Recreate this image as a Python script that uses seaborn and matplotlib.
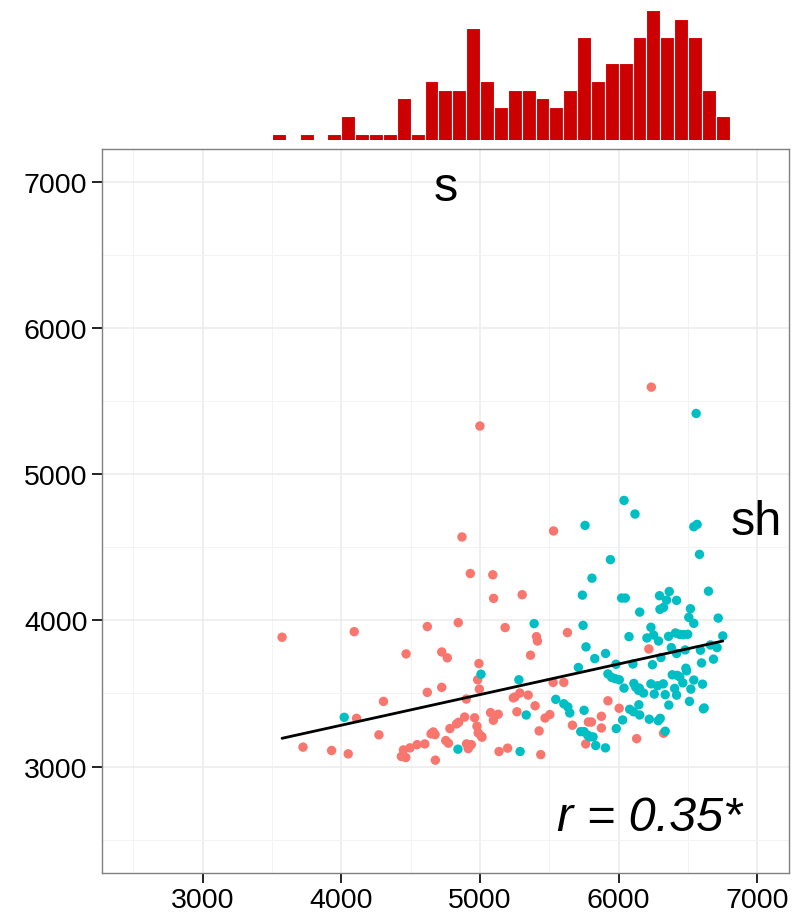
import numpy as np
import pandas as pd
import matplotlib
matplotlib.use("Agg")
import matplotlib.pyplot as plt
import seaborn as sns
from matplotlib.ticker import MultipleLocator, FixedLocator

# Group "s" observations
s_x = [3573, 4093, 4620, 4843, 5098, 5092, 4930, 5181, 4467, 4724,
       4764, 4992, 4983, 4995, 4724, 4620, 4304, 4901, 4110, 5076,
       5131, 5096, 4889, 4961, 4846, 4831, 4978, 4783, 4987, 5014,
       4663, 4676, 4647, 4271, 4753, 4772, 4602, 4546, 4495, 4448,
       4433, 4465, 4678, 4903, 4920, 4937, 4915, 5137, 5199, 3724,
       3930, 4050, 5530, 5304, 5407, 5414, 5630, 5364, 6217, 5527,
       5604, 5251, 5287, 5347, 5397, 5266, 5469, 5503, 5426, 5922,
       6003, 5875, 5781, 5803, 5666, 5875, 5762, 6129, 6323, 5438,
       6235, 4999, 4870, 5010, 5240]
s_y = [3885, 3923, 3958, 3985, 4151, 4312, 4321, 3951, 3771, 3784,
       3744, 3705, 3594, 3530, 3542, 3508, 3446, 3462, 3330, 3369,
       3358, 3317, 3339, 3334, 3303, 3292, 3276, 3260, 3230, 3201,
       3237, 3219, 3224, 3217, 3178, 3160, 3155, 3150, 3128, 3114,
       3069, 3062, 3044, 3155, 3140, 3150, 3123, 3103, 3126, 3133,
       3110, 3087, 4612, 4176, 3889, 3859, 3917, 3762, 3805, 3576,
       3576, 3476, 3503, 3489, 3416, 3375, 3332, 3356, 3244, 3450,
       3399, 3344, 3305, 3305, 3283, 3264, 3155, 3191, 3228, 3082,
       5596, 5330, 4571, 3208, 3470]

# Group "sh" observations
sh_x = [5007, 4021, 4841, 6038, 6117, 5757, 6541, 6565, 6582, 5940,
        5807, 5738, 6021, 6047, 6647, 6294, 6364, 6345, 6417, 6297,
        6323, 6517, 6151, 5390, 5743, 6505, 6717, 6541, 6232, 6074,
        6203, 6251, 6287, 6359, 6409, 6438, 6465, 6497, 6750, 6661,
        6709, 5764, 5905, 5827, 6379, 6417, 6479, 6589, 6304, 6683,
        6597, 6243, 6102, 5980, 5709, 5922, 5949, 5975, 6004, 6484,
        6489, 6386, 6421, 6440, 6462, 6541, 6604, 6109, 6122, 6148,
        6143, 6179, 6038, 6232, 6256, 6280, 6321, 6335, 6403, 6417,
        6520, 6361, 6510, 6616, 6145, 6079, 6107, 6151, 6220, 6285,
        6299, 6028, 5982, 6335, 5546, 5604, 5633, 5647, 5750, 5333,
        5280, 5726, 5750, 5776, 5815, 5791, 5834, 5904, 5289, 6558,
        6610]
sh_y = [3632, 3337, 3119, 4821, 4728, 4650, 4641, 4657, 4452, 4416,
        4289, 4173, 4153, 4153, 4200, 4169, 4198, 4139, 4137, 4076,
        4089, 4080, 4057, 3978, 3966, 4021, 4016, 3980, 3953, 3889,
        3880, 3900, 3859, 3891, 3914, 3905, 3903, 3905, 3894, 3832,
        3814, 3819, 3774, 3739, 3814, 3774, 3798, 3796, 3746, 3735,
        3709, 3697, 3702, 3700, 3678, 3634, 3610, 3601, 3594, 3673,
        3655, 3628, 3624, 3614, 3573, 3592, 3564, 3569, 3544, 3537,
        3521, 3503, 3537, 3566, 3496, 3553, 3566, 3492, 3535, 3489,
        3530, 3421, 3446, 3401, 3423, 3392, 3375, 3353, 3324, 3314,
        3330, 3319, 3260, 3242, 3460, 3430, 3408, 3367, 3385, 3353,
        3594, 3239, 3239, 3215, 3203, 3203, 3144, 3128, 3103, 5416,
        3395]

group_names = ["s", "sh"]
group_colors = ["#F8766D", "#00BFC4"]
major_ticks = [3000, 4000, 5000, 6000, 7000]
axis_limits = (2275, 7225)
hist_binwidth = 100
hist_binrange = (3500, 6800)
corr_label = "r = 0.35*"

df = pd.DataFrame({
    "x": s_x + sh_x,
    "y": s_y + sh_y,
    "group": ["s"] * len(s_x) + ["sh"] * len(sh_x),
})

sns.set_style("white")
plt.rcParams["font.family"] = ["Liberation Sans", "DejaVu Sans"]
plt.rcParams["text.color"] = "black"

fig = plt.figure(figsize=(7.92, 9.2), dpi=100)
ax = fig.add_axes([0.1288, 0.0505, 0.867, 0.7864])
ax_top = fig.add_axes([0.1288, 0.8464, 0.867, 0.1536], sharex=ax)

# Main scatter with the pooled linear fit
sns.scatterplot(data=df, x="x", y="y", hue="group", hue_order=group_names,
                palette=group_colors, s=46, linewidth=0, legend=False,
                ax=ax, zorder=3)
sns.regplot(data=df, x="x", y="y", scatter=False, ci=None, color="black",
            line_kws={"linewidth": 2.0, "zorder": 4}, ax=ax)

ax.set_xlim(*axis_limits)
ax.set_ylim(*axis_limits)
ax.xaxis.set_major_locator(FixedLocator(major_ticks))
ax.yaxis.set_major_locator(FixedLocator(major_ticks))
ax.xaxis.set_minor_locator(MultipleLocator(500))
ax.yaxis.set_minor_locator(MultipleLocator(500))
ax.set_axisbelow(True)
ax.grid(which="major", color="#EBEBEB", linewidth=1.1)
ax.grid(which="minor", color="#F3F3F3", linewidth=0.7)
ax.tick_params(which="major", direction="out", length=7.5, width=1.4,
               color="#222222", labelsize=20.5, labelcolor="black", pad=3,
               bottom=True, left=True)
ax.tick_params(which="minor", length=0)
ax.set_xlabel("")
ax.set_ylabel("")
for sp in ax.spines.values():
    sp.set_color("#808080")
    sp.set_linewidth(1.0)

ax.text(4750, 6877, "s", fontsize=35, color="black", ha="center", va="baseline")
ax.text(6992, 4594, "sh", fontsize=35, color="black", ha="center", va="baseline")
ax.text(6222, 2569, corr_label, fontsize=35, color="black", style="italic",
        ha="center", va="baseline")

# Marginal histogram of x
sns.histplot(data=df, x="x", binwidth=hist_binwidth, binrange=hist_binrange,
             color="#CC0000", alpha=1, edgecolor="white", linewidth=0.8,
             ax=ax_top)
ax_top.set_ylim(0.24, 16.3)
ax_top.axis("off")

fig.savefig("out.png", dpi=100)
